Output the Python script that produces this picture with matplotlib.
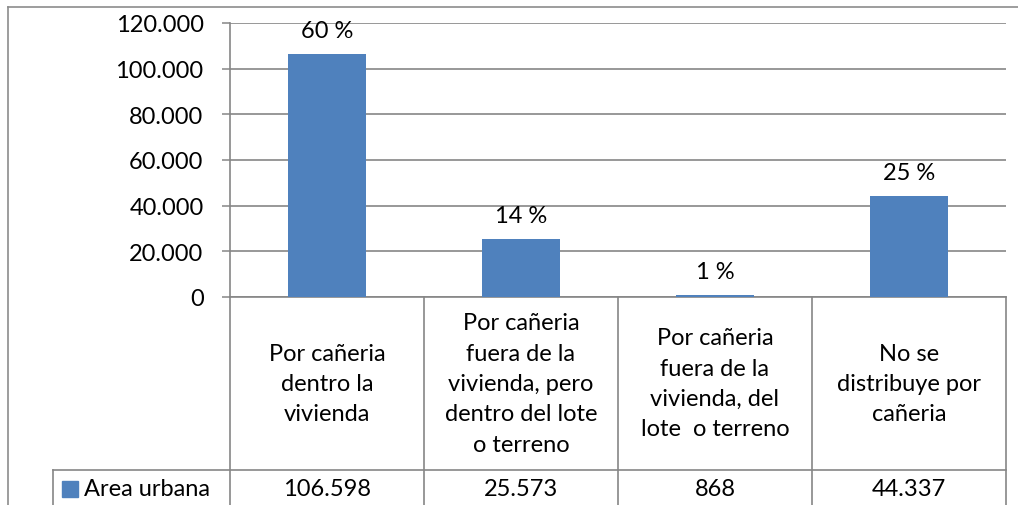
import numpy as np
import matplotlib.pyplot as plt
from matplotlib.lines import Line2D
from matplotlib.transforms import blended_transform_factory

# Data
categories = [
    "Por cañeria\ndentro la\nvivienda",
    "Por cañeria\nfuera de la\nvivienda, pero\ndentro del lote\no terreno",
    "Por cañeria\nfuera de la\nvivienda, del\nlote  o terreno",
    "No se\ndistribuye por\ncañeria",
]
values = [106598, 25573, 868, 44337]
value_labels = ["106.598", "25.573", "868", "44.337"]
pct_labels = ["60 %", "14 %", "1 %", "25 %"]
series_name = "Area urbana"
yticks = [0, 20000, 40000, 60000, 80000, 100000, 120000]

BLUE = "#4F81BD"
GRID = "#868686"
FS = 16
FS_T = 17

plt.rcParams['font.family'] = ['Lato', 'DejaVu Sans']

W, H = 1018, 506
fig = plt.figure(figsize=(W / 100, H / 100), dpi=100)
ax = fig.add_axes([230 / W, (H - 298) / H, 776 / W, 274 / H])

x = np.arange(len(values))
ax.bar(x, values, width=0.4, color=BLUE, zorder=3)
ax.set_xlim(-0.5, len(values) - 0.5)
ax.set_ylim(0, 120000)
ax.set_yticks(yticks)
ax.set_yticklabels([f"{v:,}".replace(",", ".") for v in yticks], fontsize=FS_T)
ax.set_xticks([])
ax.yaxis.grid(True, color=GRID, lw=1.2)
ax.set_axisbelow(True)
ax.tick_params(axis='y', direction='out', length=6, width=1.1, color=GRID, pad=13)
for s in ['top', 'right']:
    ax.spines[s].set_visible(False)
for s in ['left', 'bottom']:
    ax.spines[s].set_color(GRID)
    ax.spines[s].set_linewidth(1.2)

# percentage labels above bars
for xi, v, lab in zip(x, values, pct_labels):
    ax.annotate(lab, (xi, v), xytext=(0, 12), textcoords='offset points',
                ha='center', va='baseline', fontsize=FS_T)

# data table below the axis
tr = blended_transform_factory(ax.transData, ax.transAxes)
tra = ax.transAxes
hdr_bot = -0.631
row_bot = -0.770
leg_left = -0.228
lkw = dict(color=GRID, lw=1.2, clip_on=False)
bounds = np.arange(len(values) + 1) - 0.5
for b in bounds:
    ax.add_line(Line2D([b, b], [0, row_bot], transform=tr, **lkw))
ax.add_line(Line2D([leg_left, 1], [hdr_bot, hdr_bot], transform=tra, **lkw))
ax.add_line(Line2D([leg_left, 1], [row_bot, row_bot], transform=tra, **lkw))
ax.add_line(Line2D([leg_left, leg_left], [hdr_bot, row_bot], transform=tra, **lkw))

for xi, cat, vl in zip(x, categories, value_labels):
    ax.text(xi, hdr_bot / 2, cat, transform=tr, ha='center', va='center',
            fontsize=FS_T, linespacing=1.55, clip_on=False)
    ax.text(xi, (hdr_bot + row_bot) / 2, vl, transform=tr, ha='center',
            va='center', fontsize=FS_T, clip_on=False)

# legend key in table
ymid = (hdr_bot + row_bot) / 2
ax.plot([-0.2065], [ymid], marker='s', ms=11, color=BLUE, transform=tra, clip_on=False)
ax.text(-0.1875, ymid, series_name, transform=tra, ha='left', va='center',
        fontsize=FS_T, clip_on=False)

# chart area border
fig.add_artist(Line2D([8 / W, 1], [1 - 8 / H, 1 - 8 / H], color="#8c8c8c", lw=1.2))
fig.add_artist(Line2D([8 / W, 8 / W], [0, 1 - 8 / H], color="#8c8c8c", lw=1.2))

fig.savefig("out.png", dpi=100)
